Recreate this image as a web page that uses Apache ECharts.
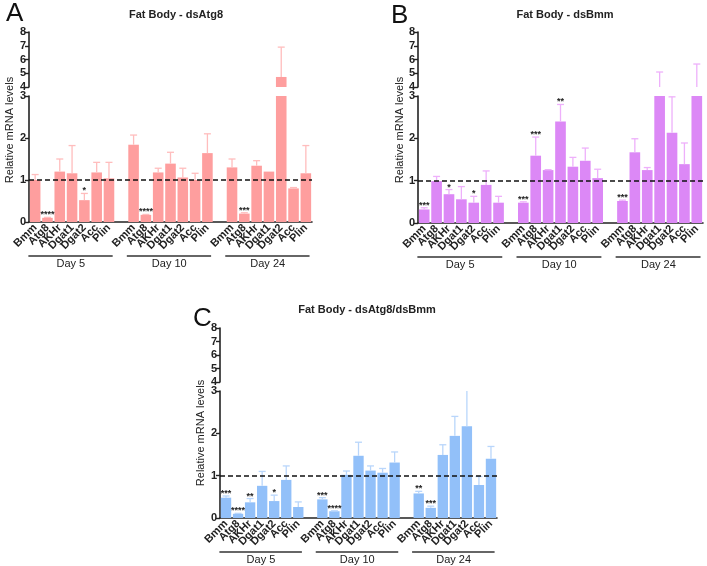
<!DOCTYPE html>
<html>
<head>
<meta charset="utf-8">
<script src="https://cdn.jsdelivr.net/npm/echarts@6.0.0/dist/echarts.min.js"></script>
<style>
  html, body { margin: 0; background: #fff; }
  #chart-container { width: 707px; height: 566px; }
</style>
</head>
<body>
<div id="chart-container"></div>
<script>
const genes = ['Bmm', 'Atg8', 'AKHr', 'Dgat1', 'Dgat2', 'Acc', 'Plin'];
const days = ['Day 5', 'Day 10', 'Day 24'];

// Panel A - dsAtg8 (Day 5, Day 10, Day 24; 7 genes each)
const atg8Mean  = [1.0, 0.1, 1.2, 1.16, 0.52, 1.18, 1.04,  1.84, 0.17, 1.18, 1.39, 1.06, 1.0, 1.64,  1.3, 0.2, 1.34, 1.2, 4.73, 0.8, 1.16];
const atg8Upper = [1.13, 0.11, 1.5, 1.82, 0.68, 1.42, 1.42,  2.07, 0.18, 1.28, 1.66, 1.28, 1.16, 2.1,  1.5, 0.22, 1.46, 1.2, 6.9, 0.82, 1.82];
const atg8Stars = ['', '****', '', '', '*', '', '',  '', '****', '', '', '', '', '',  '', '***', '', '', '', '', ''];

// Panel B - dsBmm
const bmmMean  = [0.32, 0.99, 0.68, 0.56, 0.48, 0.9, 0.48,  0.48, 1.59, 1.25, 2.4, 1.33, 1.47, 1.06,  0.52, 1.67, 1.25, 3.5, 2.13, 1.39, 3.5];
const bmmUpper = [0.36, 1.1, 0.79, 0.86, 0.63, 1.23, 0.63,  0.5, 2.03, 1.26, 2.8, 1.55, 1.77, 1.27,  0.54, 1.99, 1.31, 5.09, 2.98, 1.89, 5.67];
const bmmStars = ['***', '', '*', '', '*', '', '',  '***', '***', '', '**', '', '', '',  '***', '', '', '', '', '', ''];

// Panel C - dsAtg8/dsBmm
const bothMean  = [0.48, 0.1, 0.37, 0.76, 0.4, 0.9, 0.26,  0.44, 0.16, 1.02, 1.47, 1.12, 1.07, 1.31,  0.58, 0.24, 1.49, 1.94, 2.17, 0.78, 1.4];
const bothUpper = [0.52, 0.11, 0.46, 1.1, 0.54, 1.23, 0.38,  0.48, 0.17, 1.11, 1.79, 1.23, 1.17, 1.56,  0.63, 0.28, 1.73, 2.4, 3.0, 0.98, 1.69];
const bothStars = ['***', '****', '**', '', '*', '', '',  '***', '****', '', '', '', '', '',  '**', '***', '', '', '', '', ''];

const yLow = [0, 3];
const yHigh = [4, 8];

const FONT = 'Liberation Sans, Arial, sans-serif';

// categories with one empty slot between days
const categories = [];
days.forEach((d, di) => {
  genes.forEach(g => categories.push(g));
  if (di < days.length - 1) categories.push('');
});
const idxOf = k => Math.floor(k / genes.length) * (genes.length + 1) + (k % genes.length);

const chart = echarts.init(document.getElementById('chart-container'));

const panels = [
  { mean: atg8Mean, upper: atg8Upper, stars: atg8Stars, bar: '#fe9e9e', err: '#ffbdbd',
    low: { left: 29, top: 96, width: 283, height: 126 }, high: { left: 29, top: 32, width: 283, height: 55 } },
  { mean: bmmMean, upper: bmmUpper, stars: bmmStars, bar: '#dc88f6', err: '#eeb0fb',
    low: { left: 418, top: 96, width: 285, height: 127 }, high: { left: 418, top: 32, width: 285, height: 55 } },
  { mean: bothMean, upper: bothUpper, stars: bothStars, bar: '#92c0f9', err: '#b9d6fb',
    low: { left: 220, top: 391, width: 277, height: 127 }, high: { left: 220, top: 328, width: 277, height: 54 } }
];

const grid = [], xAxis = [], yAxis = [], series = [];

function errSeries(gi, p, range) {
  const rows = p.mean.map((m, k) => [idxOf(k), m, p.upper[k]]);
  return {
    type: 'custom', xAxisIndex: gi, yAxisIndex: gi, z: 4, silent: true,
    data: rows,
    renderItem(params, api) {
      const i = api.value(0), m = api.value(1), u = api.value(2);
      const a = Math.max(m, range[0]), b = Math.min(u, range[1]);
      const children = [];
      if (u > range[0] && b > a) {
        const p0 = api.coord([i, a]), p1 = api.coord([i, b]);
        children.push({ type: 'line', shape: { x1: p0[0], y1: p0[1], x2: p1[0], y2: p1[1] },
          style: { stroke: p.err, lineWidth: 1.3 } });
        if (u < range[1]) {
          children.push({ type: 'line', shape: { x1: p1[0] - 3.5, y1: p1[1], x2: p1[0] + 3.5, y2: p1[1] },
            style: { stroke: p.err, lineWidth: 1.3 } });
        }
      }
      const star = p.stars[params.dataIndex];
      if (star && range[0] === 0) {
        const top = api.coord([i, Math.min(u, range[1])]);
        children.push({ type: 'text', x: top[0], y: top[1] + 2,
          style: { text: star, align: 'center', verticalAlign: 'bottom', fill: '#222',
            font: 'bold 9px ' + FONT } });
      }
      return { type: 'group', children };
    }
  };
}

panels.forEach((p, pi) => {
  const gLow = pi * 2, gHigh = pi * 2 + 1;
  grid.push(p.low, p.high);

  const labelFont = { fontFamily: FONT, fontWeight: 'bold', fontSize: 11, color: '#222' };
  xAxis.push({
    gridIndex: gLow, type: 'category', data: categories,
    axisLine: { lineStyle: { color: '#222', width: 1.6 } },
    axisTick: { alignWithLabel: true, interval: 0, length: 4, lineStyle: { color: '#222', width: 1.2 } },
    axisLabel: { interval: 0, rotate: 45, margin: 4, ...labelFont }
  }, {
    gridIndex: gHigh, type: 'category', data: categories, show: false
  });

  const yCommon = {
    type: 'value', interval: 1, splitLine: { show: false },
    axisLine: { show: true, lineStyle: { color: '#222', width: 1.6 } },
    axisTick: { show: true, length: 4, lineStyle: { color: '#222', width: 1.4 } },
    axisLabel: { margin: 3, ...labelFont }
  };
  yAxis.push({ ...yCommon, gridIndex: gLow, min: yLow[0], max: yLow[1] },
             { ...yCommon, gridIndex: gHigh, min: yHigh[0], max: yHigh[1] });

  const lowData = categories.map(() => '-');
  const highData = categories.map(() => '-');
  p.mean.forEach((m, k) => {
    lowData[idxOf(k)] = Math.min(m, yLow[1]);
    if (m > yHigh[0]) highData[idxOf(k)] = m;
  });

  series.push({
    type: 'bar', xAxisIndex: gLow, yAxisIndex: gLow, data: lowData, barCategoryGap: '14%',
    itemStyle: { color: p.bar }, silent: true, clip: true,
    markLine: {
      silent: true, symbol: 'none', label: { show: false },
      lineStyle: { color: '#111', type: [5, 3], width: 1.6 },
      data: [{ yAxis: 1 }]
    }
  }, {
    type: 'bar', xAxisIndex: gHigh, yAxisIndex: gHigh, data: highData, barCategoryGap: '14%',
    itemStyle: { color: p.bar }, silent: true, clip: true
  });

  series.push(errSeries(gLow, p, yLow), errSeries(gHigh, p, yHigh));

  // day group brackets under the labels
  series.push({
    type: 'custom', xAxisIndex: gLow, yAxisIndex: gLow, silent: true, clip: false,
    data: days.map((d, di) => [di * (genes.length + 1), di * (genes.length + 1) + genes.length - 1]),
    renderItem(params, api) {
      const s = api.coord([api.value(0), 0]);
      const e = api.coord([api.value(1), 0]);
      const bw = api.size([1, 0])[0];
      const y = s[1] + 34;
      return { type: 'group', children: [
        { type: 'line', shape: { x1: s[0] - bw * 0.55, y1: y, x2: e[0] + bw * 0.3, y2: y },
          style: { stroke: '#333', lineWidth: 1.3 } },
        { type: 'text', x: (s[0] + e[0]) / 2 - bw * 0.1, y: y + 2,
          style: { text: days[params.dataIndex], align: 'center', verticalAlign: 'top',
            fill: '#222', font: '11px ' + FONT } }
      ] };
    }
  });
});

const option = {
  animation: false,
  backgroundColor: '#fff',
  title: [
    { text: 'A', left: 1, top: -4, textStyle: { fontSize: 26, fontWeight: 'normal', fontFamily: FONT, color: '#111' } },
    { text: 'B', left: 386, top: -2, textStyle: { fontSize: 26, fontWeight: 'normal', fontFamily: FONT, color: '#111' } },
    { text: 'C', left: 188, top: 301, textStyle: { fontSize: 26, fontWeight: 'normal', fontFamily: FONT, color: '#111' } },
    { text: 'Fat Body - dsAtg8', left: 171, top: 4, textAlign: 'center',
      textStyle: { fontSize: 11, fontWeight: 'bold', fontFamily: FONT, color: '#222' } },
    { text: 'Fat Body - dsBmm', left: 560, top: 4, textAlign: 'center',
      textStyle: { fontSize: 11, fontWeight: 'bold', fontFamily: FONT, color: '#222' } },
    { text: 'Fat Body - dsAtg8/dsBmm', left: 362, top: 299, textAlign: 'center',
      textStyle: { fontSize: 11, fontWeight: 'bold', fontFamily: FONT, color: '#222' } }
  ],
  graphic: [
    { type: 'text', x: 10, y: 130, rotation: Math.PI / 2,
      style: { text: 'Relative mRNA levels', align: 'center', verticalAlign: 'middle', fill: '#222', font: '11px ' + FONT } },
    { type: 'text', x: 400, y: 130, rotation: Math.PI / 2,
      style: { text: 'Relative mRNA levels', align: 'center', verticalAlign: 'middle', fill: '#222', font: '11px ' + FONT } },
    { type: 'text', x: 201, y: 433, rotation: Math.PI / 2,
      style: { text: 'Relative mRNA levels', align: 'center', verticalAlign: 'middle', fill: '#222', font: '11px ' + FONT } }
  ],
  grid, xAxis, yAxis, series
};

chart.setOption(option);
</script>
</body>
</html>
